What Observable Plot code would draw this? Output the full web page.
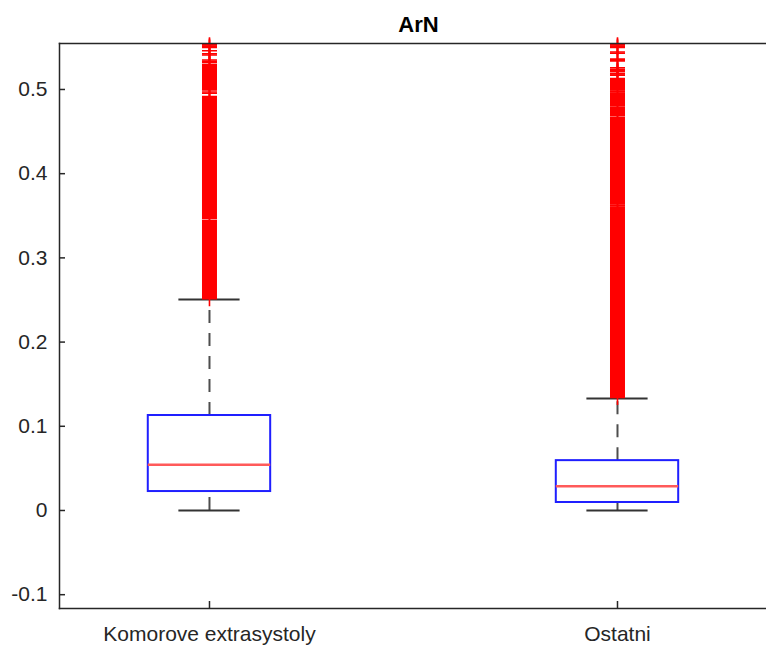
<!DOCTYPE html>
<html><head><meta charset="utf-8">
<script src="https://cdn.jsdelivr.net/npm/d3@7"></script>
<script src="https://cdn.jsdelivr.net/npm/@observablehq/plot@0.6"></script>
<style>body{margin:0;background:#fff}</style>
</head><body><div id="chart"></div>
<script>
const title = "ArN";
const categories = ["Komorove extrasystoly", "Ostatni"];
const positions = [1, 2];
const q1 = [0.0225, 0.0095];
const medians = [0.0544, 0.0287];
const q3 = [0.1128, 0.0592];
const whiskerLow = [0, 0];
const whiskerHigh = [0.2506, 0.1330];
// dense outlier runs [from, to] (markers packed so closely they form a solid column)
const outlierRuns1 = [[0.2515, 0.3444], [0.3468, 0.4915], [0.4995, 0.5295]];
const outlierRuns2 = [[0.1342, 0.3605], [0.3625, 0.4668], [0.4690, 0.4788], [0.4808, 0.4958], [0.4978, 0.5130]];
// separate outliers above the dense runs
const outliers1 = [0.4955, 0.4970, 0.5320, 0.5335, 0.5350, 0.5410, 0.5425, 0.5460, 0.5500, 0.5515, 0.5530];
const outliers2 = [0.5170, 0.5185, 0.5210, 0.5225, 0.5240, 0.5258, 0.5340, 0.5360, 0.5430, 0.5445, 0.5500, 0.5515, 0.5530];
const yTicks = [-0.1, 0, 0.1, 0.2, 0.3, 0.4, 0.5];
const yTickLabels = ["-0.1", "0", "0.1", "0.2", "0.3", "0.4", "0.5"];
const xDomain = [0.6324, 2.3652];
const yDomain = [-0.1164, 0.5546];
const boxHalf = 0.15, capHalf = 0.075;

const boxes = categories.map((c, i) => ({pos: positions[i], q1: q1[i], med: medians[i], q3: q3[i], lo: whiskerLow[i], hi: whiskerHigh[i]}));
const runs = [outlierRuns1, outlierRuns2].flatMap((r, i) => r.map(([a, b]) => ({pos: positions[i], a, b})));
const points = [outliers1, outliers2].flatMap((o, i) => o.map(v => ({pos: positions[i], v})));
const runEnds = runs.flatMap(r => [{pos: r.pos, v: r.a}, {pos: r.pos, v: r.b}]);

const plus = {draw(ctx, size) {
  const r = Math.sqrt(size / Math.PI);
  ctx.moveTo(-r, 0); ctx.lineTo(r, 0);
  ctx.moveTo(0, -r); ctx.lineTo(0, r);
}};

const font = "'Liberation Sans', Arial, Helvetica, sans-serif";
const axisColor = "#262626";

const chart = Plot.plot({
  width: 766, height: 646,
  marginLeft: 59, marginRight: 0, marginTop: 43, marginBottom: 38,
  x: {domain: xDomain, label: null},
  y: {domain: yDomain, label: null},
  style: {fontFamily: font, fontSize: "21px", color: axisColor, background: "#fff", overflow: "visible"},
  marks: [
    // whiskers
    Plot.ruleX(boxes, {x: "pos", y1: "q3", y2: "hi", stroke: "#4d4d4d", strokeWidth: 2, strokeDasharray: "13,10"}),
    Plot.ruleX(boxes, {x: "pos", y1: "lo", y2: "q1", stroke: "#4d4d4d", strokeWidth: 2, strokeDasharray: "13,10"}),
    // caps
    Plot.ruleY(boxes, {y: "hi", x1: d => d.pos - capHalf, x2: d => d.pos + capHalf, stroke: "#333", strokeWidth: 2}),
    Plot.ruleY(boxes, {y: "lo", x1: d => d.pos - capHalf, x2: d => d.pos + capHalf, stroke: "#333", strokeWidth: 2}),
    // boxes
    Plot.rect(boxes, {x1: d => d.pos - boxHalf, x2: d => d.pos + boxHalf, y1: "q1", y2: "q3", fill: "none", stroke: "#1f1fff", strokeWidth: 2}),
    Plot.ruleY(boxes, {y: "med", x1: d => d.pos - boxHalf, x2: d => d.pos + boxHalf, stroke: "#ff5a5a", strokeWidth: 2.5}),
    // outliers
    Plot.ruleX(runs, {x: "pos", y1: "a", y2: "b", stroke: "#ff0000", strokeWidth: 15}),
    Plot.dot(points.concat(runEnds), {x: "pos", y: "v", r: 7.5, symbol: plus, stroke: "#ff0000", strokeWidth: 1.6, fill: "none"}),
    // frame (right edge lies outside the window)
    Plot.frame({anchor: "top", stroke: axisColor, strokeWidth: 1.5}),
    Plot.frame({anchor: "left", stroke: axisColor, strokeWidth: 1.5}),
    Plot.frame({anchor: "bottom", stroke: axisColor, strokeWidth: 1.5}),
    Plot.axisY({ticks: yTicks, tickFormat: d => yTickLabels[yTicks.indexOf(d)], tickSize: -6, tickPadding: 18, fontSize: 21, stroke: axisColor, strokeWidth: 1.5, label: null}),
    Plot.axisX({ticks: positions, tickFormat: d => categories[positions.indexOf(d)], tickSize: -7, tickPadding: 25, fontSize: 21, stroke: axisColor, strokeWidth: 1.5, label: null}),
    Plot.text([title], {frameAnchor: "top", lineAnchor: "bottom", dy: -12, dx: 5.5, fontSize: 22, fontWeight: "bold", fill: "#000"})
  ]
});
document.getElementById("chart").append(chart);
</script>
</body></html>
